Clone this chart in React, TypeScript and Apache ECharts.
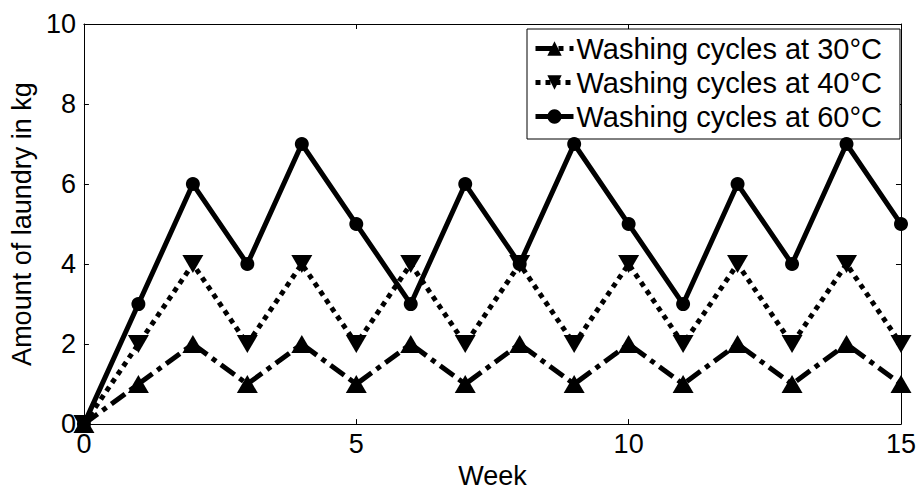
import React, { useEffect, useRef } from "react";
import * as echarts from "echarts";

const weeks = [0, 1, 2, 3, 4, 5, 6, 7, 8, 9, 10, 11, 12, 13, 14, 15];
const cycles30 = [0, 1, 2, 1, 2, 1, 2, 1, 2, 1, 2, 1, 2, 1, 2, 1];
const cycles40 = [0, 2, 4, 2, 4, 2, 4, 2, 4, 2, 4, 2, 4, 2, 4, 2];
const cycles60 = [0, 3, 6, 4, 7, 5, 3, 6, 4, 7, 5, 3, 6, 4, 7, 5];
const seriesNames = [
  "Washing cycles at 30°C",
  "Washing cycles at 40°C",
  "Washing cycles at 60°C",
];
const xTitle = "Week";
const yTitle = "Amount of laundry in kg";

const FONT = "'Liberation Sans', Arial, Helvetica, sans-serif";

export default function App() {
  const ref = useRef<HTMLDivElement>(null);
  useEffect(() => {
    if (!ref.current) return;
    const chart = echarts.init(ref.current, null, { renderer: "svg" });
    const pairs = (ys: number[]) => weeks.map((w, i) => [w, ys[i]]);
    const axisCommon = {
      type: "value" as const,
      axisLine: { show: true, onZero: false, lineStyle: { color: "#000", width: 1 } },
      axisTick: { show: true, inside: true, length: 5, lineStyle: { color: "#000", width: 1 } },
      splitLine: { show: false },
    };
    chart.setOption({
      animation: false,
      backgroundColor: "#fff",
      textStyle: { fontFamily: FONT },
      grid: { left: 83, top: 24, right: 17, bottom: 62, containLabel: false },
      xAxis: [
        {
          ...axisCommon,
          position: "bottom",
          min: 0,
          max: 15,
          interval: 5,
          name: xTitle,
          nameLocation: "middle",
          nameGap: 32,
          nameTextStyle: { fontSize: 27, color: "#000", fontFamily: FONT },
          axisLabel: { fontSize: 27, color: "#000", margin: 6, fontFamily: FONT },
        },
        {
          ...axisCommon,
          position: "top",
          min: 0,
          max: 15,
          interval: 5,
          axisLabel: { show: false },
        },
      ],
      yAxis: [
        {
          ...axisCommon,
          position: "left",
          min: 0,
          max: 10,
          interval: 2,
          name: yTitle,
          nameLocation: "middle",
          nameGap: 43,
          nameTextStyle: { fontSize: 27, color: "#000", fontFamily: FONT },
          axisLabel: { fontSize: 27, color: "#000", margin: 8, fontFamily: FONT },
        },
        {
          ...axisCommon,
          position: "right",
          min: 0,
          max: 10,
          interval: 2,
          axisLabel: { show: false },
        },
      ],
      legend: {
        orient: "vertical",
        left: 527,
        top: 29,
        backgroundColor: "#fff",
        borderColor: "#000",
        borderWidth: 1,
        borderRadius: 0,
        padding: [5, 18, 8, 6],
        itemGap: 5,
        itemWidth: 38,
        itemHeight: 18,
        lineStyle: { width: 5 },
        textStyle: { fontSize: 29, color: "#000", fontFamily: FONT, lineHeight: 28, padding: [0, 0, 0, -2] },
        data: seriesNames,
      },
      series: [
        {
          name: seriesNames[0],
          type: "line",
          data: pairs(cycles30),
          clip: false,
          symbol: "triangle",
          symbolSize: [21, 18],
          itemStyle: { color: "#000" },
          lineStyle: { color: "#000", width: 5, type: [17, 6, 5, 6] },
          z: 2,
        },
        {
          name: seriesNames[1],
          type: "line",
          data: pairs(cycles40),
          clip: false,
          symbol: "triangle",
          symbolRotate: 180,
          symbolSize: [21, 18],
          itemStyle: { color: "#000" },
          lineStyle: { color: "#000", width: 5, type: [5, 5] },
          z: 3,
        },
        {
          name: seriesNames[2],
          type: "line",
          data: pairs(cycles60),
          clip: false,
          symbol: "circle",
          symbolSize: 14,
          itemStyle: { color: "#000" },
          lineStyle: { color: "#000", width: 5, type: "solid" },
          z: 4,
        },
      ],
    });
    return () => chart.dispose();
  }, []);
  return (
    <div
      ref={ref}
      style={{ position: "fixed", left: 0, top: 0, width: 919, height: 494, background: "#fff" }}
    />
  );
}
